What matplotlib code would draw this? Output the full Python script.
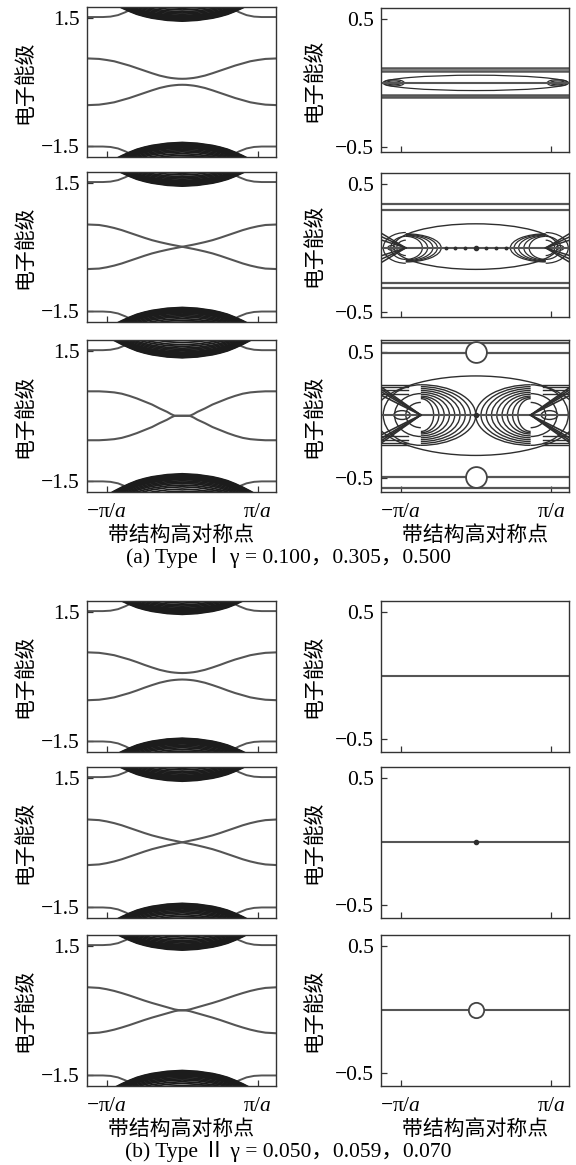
import numpy as np
import matplotlib
matplotlib.use("Agg")
import matplotlib.pyplot as plt
from matplotlib.patches import Ellipse, Arc

plt.rcParams["font.family"] = ["Liberation Serif", "Noto Sans CJK SC"]
plt.rcParams["mathtext.fontset"] = "custom"
plt.rcParams["mathtext.rm"] = "Liberation Serif"
plt.rcParams["mathtext.it"] = "Liberation Serif:italic"

# ---- data: k in units of pi/a, energy in the panel units ----
K_HALF = [0.0, 0.05, 0.1, 0.15, 0.2, 0.3, 0.4, 0.5, 0.6, 0.7, 0.8, 0.9, 1.0, 1.1, 1.3]

# in-gap edge state (upper branch, lower branch is its mirror)
EDGE_A1 = [0.07, 0.072, 0.08, 0.09, 0.105, 0.145, 0.20, 0.26, 0.32, 0.38, 0.43, 0.48, 0.51, 0.535, 0.55]
EDGE_A2 = [0.0, 0.017, 0.034, 0.051, 0.07, 0.11, 0.155, 0.21, 0.27, 0.33, 0.39, 0.44, 0.48, 0.51, 0.525]
EDGE_A3 = [0.0, 0.0, 0.0, 0.04, 0.09, 0.17, 0.26, 0.33, 0.40, 0.46, 0.51, 0.54, 0.555, 0.565, 0.565]
EDGE_B1 = [0.075, 0.078, 0.085, 0.095, 0.11, 0.15, 0.205, 0.265, 0.33, 0.39, 0.44, 0.49, 0.52, 0.545, 0.56]
EDGE_B2 = [0.0, 0.018, 0.036, 0.054, 0.073, 0.115, 0.16, 0.215, 0.275, 0.335, 0.395, 0.445, 0.485, 0.515, 0.535]
EDGE_B3 = [0.0, 0.005, 0.02, 0.045, 0.07, 0.12, 0.17, 0.225, 0.285, 0.345, 0.40, 0.45, 0.49, 0.52, 0.54]

# second edge state near the bulk bands
SIDE_K = [0.55, 0.65, 0.75, 0.85, 0.95, 1.05, 1.3]
SIDE_E = [1.80, 1.72, 1.63, 1.56, 1.525, 1.515, 1.515]

# lowest bulk band (dome) and the stack of bands above it
DOME_K = [0.0, 0.2, 0.4, 0.5, 0.6, 0.7, 0.8, 0.9, 1.0, 1.1]
DOME_E = [1.42, 1.44, 1.49, 1.53, 1.58, 1.65, 1.73, 1.82, 1.92, 2.02]
DOME_MIN = [1.42, 1.42, 1.34, 1.44, 1.42, 1.40]
BAND_OFFSETS = [0.0, 0.012, 0.025, 0.04, 0.055, 0.07, 0.09, 0.11, 0.13, 0.16,
                0.19, 0.22, 0.26, 0.30, 0.35, 0.40]

# right column, gamma = 0.100
R1_LINES = [0.113, 0.094, -0.092, -0.110]
R1_LENS = (0.0, 0.0, 1.23, 0.06)           # centre x, centre y, half-width, half-height
R1_EDGE_X = [-1.09, 1.09]
R1_EDGE_W = [0.14, 0.10]
R1_EDGE_H = [0.025, 0.015]

# right column, gamma = 0.305
R2_LINES = [0.340, 0.296, -0.272, -0.312]
R2_BIG = (0.0, 0.01, 1.09, 0.178)
R2_TIP = [-0.93, 0.93]
R2_ARC_W = [0.22, 0.29, 0.36, 0.42, 0.47]
R2_ARC_H = [0.09, 0.095, 0.10, 0.105, 0.11]
R2_BACK_W = [0.12, 0.2, 0.3]
R2_BACK_H = [0.06, 0.09, 0.12]
R2_FAN_Y = [0.13, 0.10, 0.07]
R2_SMALL = (1.12, 0.05, 0.018)
R2_DOTS = [-0.4, -0.27, -0.14, 0.14, 0.27, 0.4]

# right column, gamma = 0.500
R3_LINES = [0.575, 0.495, -0.490, -0.580]
R3_RINGS = [0.5, -0.49]
R3_BIG = (0.0, -0.005, 1.36, 0.315)
R3_TIP = [-0.73, 0.73]
R3_ARC_W = [0.17, 0.24, 0.31, 0.38, 0.45, 0.52, 0.59, 0.66, 0.73]
R3_ARC_H = [0.13, 0.14, 0.15, 0.165, 0.18, 0.195, 0.21, 0.225, 0.24]
R3_BACK_W = [0.2, 0.35, 0.5]
R3_BACK_H = [0.1, 0.17, 0.24]
R3_FAN_Y = [0.24, 0.22, 0.20, 0.17]
R3_SMALL = (0.98, 0.11, 0.035)

CAPTION_A = "(a) Type \u2160 \u03b3 = 0.100\uff0c0.305\uff0c0.500"
CAPTION_B = "(b) Type \u2161 \u03b3 = 0.050\uff0c0.059\uff0c0.070"
YLABEL = "电子能级"
XLABEL = "带结构高对称点"

W, H = 576, 1165
LEFT_X = (87, 276)
RIGHT_X = (381, 569)
LEFT_ROWS = [(7, 157), (172, 322), (340, 492), (601, 752), (767, 918), (935, 1086)]
RIGHT_ROWS = [(8, 152), (173, 317), (340, 492), (601, 752), (767, 918), (935, 1086)]
RIGHT_YLIM = [(-0.54, 0.585), (-0.54, 0.585), (-0.61, 0.595),
              (-0.6, 0.59), (-0.6, 0.59), (-0.6, 0.59)]

LINE_C = "#555555"
BULK_C = "#1c1c1c"
MESH_C = "#2e2e2e"

fig = plt.figure(figsize=(W / 100, H / 100), dpi=100)


def add_ax(xs, ys):
    return fig.add_axes([xs[0] / W, 1 - ys[1] / H, (xs[1] - xs[0]) / W, (ys[1] - ys[0]) / H])


def mirror(k, e):
    k = np.asarray(k)
    e = np.asarray(e)
    return np.concatenate([-k[::-1], k[1:]]), np.concatenate([e[::-1], e[1:]])


def style(ax, yticks, ylabels, bottom, label_x):
    ax.set_xlim(-1.26, 1.24)
    ax.set_xticks([-1, 1])
    if bottom:
        ax.set_xticklabels([r"$-\mathrm{\pi}/a$", r"$\mathrm{\pi}/a$"], fontsize=15.5)
        ax.set_xlabel(XLABEL, fontsize=15, family="Noto Sans CJK SC", labelpad=1)
    else:
        ax.set_xticklabels([])
    ax.set_yticks(yticks)
    ax.set_yticklabels(ylabels, fontsize=15.5)
    ax.set_ylabel(YLABEL, fontsize=15, family="Noto Sans CJK SC")
    ax.yaxis.set_label_coords(label_x, 0.5)
    ax.tick_params(direction="in", length=4, width=0.9, color="#333333", pad=5)
    ax.tick_params(axis="x", pad=8)
    for s in ax.spines.values():
        s.set_color("#333333")
        s.set_linewidth(1.0)


def hlines(ax, ys, lw):
    for y in ys:
        ax.plot([-1.3, 1.3], [y, y], color=LINE_C, lw=lw)


def cluster(ax, tip, arc_w, arc_h, back_w, back_h, fan_y, lw):
    side = np.sign(tip)
    # arcs opening towards the zone edge, bulging towards k = 0
    t1, t2 = (-90, 90) if side < 0 else (90, 270)
    for w, h in zip(arc_w, arc_h):
        ax.add_patch(Arc((tip, 0), 2 * w, 2 * h, theta1=t1, theta2=t2, ec=MESH_C, lw=lw))
    for w, h in zip(back_w, back_h):
        ax.add_patch(Arc((tip, 0), 2 * w, 2 * h, theta1=t2, theta2=t1 + 360, ec=MESH_C, lw=lw))
    edge = side * 1.3
    for y in fan_y:
        ax.plot([edge, tip], [y, 0], color=MESH_C, lw=lw + 0.2)
        ax.plot([edge, tip], [-y, 0], color=MESH_C, lw=lw + 0.2)


edge_rows = [EDGE_A1, EDGE_A2, EDGE_A3, EDGE_B1, EDGE_B2, EDGE_B3]

# ---- left column: full band structure ----
for i, edge in enumerate(edge_rows):
    ax = add_ax(LEFT_X, LEFT_ROWS[i])
    kk, ee = mirror(K_HALF, edge)
    ax.plot(kk, ee, color=LINE_C, lw=1.5)
    ax.plot(kk, -ee, color=LINE_C, lw=1.5)

    ks, es = mirror(SIDE_K, SIDE_E)
    ax.plot(ks, es, color=LINE_C, lw=1.4)
    ax.plot(ks, -es, color=LINE_C, lw=1.4)

    kd, ed = mirror(DOME_K, DOME_E)
    shift = DOME_MIN[i] - DOME_E[0]
    for off in BAND_OFFSETS:
        ax.plot(kd, ed + shift + off, color=BULK_C, lw=1.3)
        ax.plot(kd, -(ed + shift + off), color=BULK_C, lw=1.3)

    ax.set_ylim(-1.76, 1.75)
    style(ax, [1.5, -1.5], ["1.5", "\u22121.5"], i in (2, 5), -0.275)

# ---- right column: zoom around zero energy ----
for i in range(6):
    ax = add_ax(RIGHT_X, RIGHT_ROWS[i])
    ax.plot([-1.3, 1.3], [0, 0], color=LINE_C, lw=1.5, zorder=2)

    if i == 0:
        hlines(ax, R1_LINES, 1.8)
        cx, cy, a, b = R1_LENS
        ax.add_patch(Ellipse((cx, cy), 2 * a, 2 * b, fill=False, ec=MESH_C, lw=0.9))
        for x in R1_EDGE_X:
            for w, h in zip(R1_EDGE_W, R1_EDGE_H):
                ax.add_patch(Ellipse((x, 0), 2 * w, 2 * h, fill=False, ec=MESH_C, lw=0.9))
    elif i == 1:
        hlines(ax, R2_LINES, 1.6)
        cx, cy, a, b = R2_BIG
        ax.add_patch(Ellipse((cx, cy), 2 * a, 2 * b, fill=False, ec=MESH_C, lw=1.0))
        for tip in R2_TIP:
            cluster(ax, tip, R2_ARC_W, R2_ARC_H, R2_BACK_W, R2_BACK_H, R2_FAN_Y, 0.9)
            sx, sw, sh = R2_SMALL
            ax.add_patch(Ellipse((np.sign(tip) * sx, 0), 2 * sw, 2 * sh, fill=False,
                                 ec=MESH_C, lw=0.9))
        ax.plot(R2_DOTS, np.zeros(len(R2_DOTS)), "o", color=MESH_C, ms=1.8)
        ax.plot([0], [0], "o", color=MESH_C, ms=3)
    elif i == 2:
        hlines(ax, R3_LINES, 1.6)
        ax.plot(np.zeros(len(R3_RINGS)), R3_RINGS, "o", ms=15, mfc="white",
                mec="#444444", mew=1.3, zorder=3)
        cx, cy, a, b = R3_BIG
        ax.add_patch(Ellipse((cx, cy), 2 * a, 2 * b, fill=False, ec=MESH_C, lw=1.0))
        for tip in R3_TIP:
            cluster(ax, tip, R3_ARC_W, R3_ARC_H, R3_BACK_W, R3_BACK_H, R3_FAN_Y, 1.0)
            side = np.sign(tip)
            for y in R3_FAN_Y:
                ax.plot([side * 1.3, side * 0.9], [y, y], color=MESH_C, lw=1.0)
                ax.plot([side * 1.3, side * 0.9], [-y, -y], color=MESH_C, lw=1.0)
            sx, sw, sh = R3_SMALL
            ax.add_patch(Ellipse((side * sx, 0), 2 * sw, 2 * sh, fill=False,
                                 ec=MESH_C, lw=1.0))
        ax.plot([0], [0], "o", color=MESH_C, ms=3)
    elif i == 4:
        ax.plot([0], [0], "o", color=MESH_C, ms=3)
    elif i == 5:
        ax.plot([0], [0], "o", ms=11, mfc="white", mec="#444444", mew=1.3, zorder=3)

    ax.set_ylim(*RIGHT_YLIM[i])
    style(ax, [0.5, -0.5], ["0.5", "\u22120.5"], i in (2, 5), -0.30)

fig.text(0.5, 1 - 557 / H, CAPTION_A, ha="center", va="center", fontsize=15.5)
fig.text(0.5, 1 - 1152 / H, CAPTION_B, ha="center", va="center", fontsize=15.5)

fig.savefig("out.png", dpi=100)
